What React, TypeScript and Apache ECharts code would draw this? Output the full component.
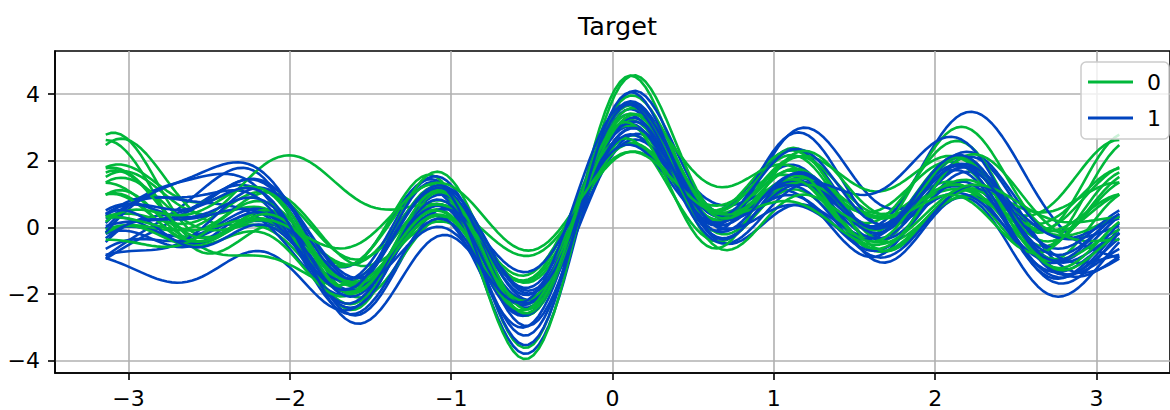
import React, { useEffect, useRef } from 'react';
import * as echarts from 'echarts';

// Andrews-curve chart: each row is one sample's feature vector
// [x1, x2, x3, ...] -> f(t) = x1/sqrt(2) + x2 sin t + x3 cos t + x4 sin 2t + x5 cos 2t + ...
const classLabels = ['0', '1'];
const classColors = ['#00b83a', '#0044bf'];
const xTicks = [-3, -2, -1, 0, 1, 2, 3];
const yTicks = [-4, -2, 0, 2, 4];
const titleText = 'Target';

// class "0" samples
const class0Rows: number[][] = [
  [0.78, 1.11, -0.10, 0.56, 0.85, 0.36, 0.04, 0.70, 0.46, 0.30, 0.67, 0.36, 1.53],
  [0.65, 0.61, -0.04, 0.28, 0.74, 0.55, -0.24, 0.29, 0.51, 0.20, 0.41, 0.24, 1.04],
  [0.57, 0.88, -0.17, 0.47, 0.39, -0.05, 0.28, 0.65, 0.24, 0.17, 0.32, 0.20, 0.91],
  [0.82, 0.88, 0.07, 0.57, 0.64, -0.03, -0.18, 0.79, 0.56, 0.22, 0.52, 0.26, 1.10],
  [0.61, 0.53, -0.03, 0.49, 0.55, 0.41, 0.19, 0.06, 0.03, 0.15, 0.30, 0.18, 0.79],
  [0.52, 1.04, 0.01, -0.06, 0.49, 0.30, 0.53, 0.74, 0.06, 0.24, 0.58, 0.29, 1.19],
  [0.77, 0.70, 0.01, 0.75, 0.77, -0.09, 0.04, 0.15, 0.05, 0.19, 0.46, 0.23, 0.95],
  [0.62, 0.82, 0.27, 0.61, 0.18, 0.61, 0.41, 0.98, 0.50, 0.27, 0.74, 0.32, 1.28],
  [0.46, 0.93, 0.11, 0.04, 0.53, 0.11, -0.26, 0.46, 0.40, 0.15, 0.37, 0.18, 0.74],
  [0.92, 1.04, 0.15, 0.38, 0.13, 0.18, 0.14, 0.79, 0.49, 0.20, 0.57, 0.24, 0.94],
  [0.45, 0.40, 0.29, 0.33, -0.03, -0.12, 0.50, 0.26, 0.16, 0.17, 0.51, 0.20, 0.78],
  [0.36, 0.91, 0.27, 0.56, 0.56, 0.39, 0.07, 0.33, 0.17, 0.22, 0.66, 0.26, 1.01],
  [1.04, 0.03, 0.11, 0.43, -0.24, 0.33, 0.53, 0.06, 0.13, 0.08, 0.19, 0.30, 0.53],
  [0.28, 0.81, 0.43, -0.15, 0.12, 0.08, 0.56, 0.95, 0.16, 0.24, 0.74, 0.29, 1.08],
  [0.52, 0.97, 0.42, 0.46, 0.35, 0.59, 0.57, 0.36, -0.31, 0.19, 0.62, 0.23, 0.83],
  [0.42, 0.81, 0.05, 0.51, 0.31, -0.11, 0.05, 0.28, 0.61, 0.22, 0.55, 0.26, 1.08],
  [0.55, 0.66, 0.32, 0.55, 0.37, 0.13, 0.63, 0.80, -0.07, 0.24, 0.69, 0.29, 1.12],
  [0.60, 0.21, 0.32, -0.07, 0.31, 0.33, 0.14, 0.33, -0.08, 0.12, 0.41, 0.14, 0.52],
];

// class "1" samples
const class1Rows: number[][] = [
  [0.43, 0.81, 0.43, 0.76, 0.24, -0.24, 0.55, 0.39, -0.52, 0.22, 0.81, 0.26, 0.90],
  [0.15, 0.44, 0.48, 1.19, 0.19, 0.30, 0.49, 0.86, 0.02, 0.27, 0.94, 0.32, 1.15],
  [0.28, 0.57, 0.29, 0.44, 0.22, 0.25, 0.60, 0.73, -0.57, 0.19, 0.69, 0.23, 0.79],
  [0.29, 1.13, 0.44, 0.78, -0.10, -0.08, 0.33, 0.38, 0.31, 0.24, 0.84, 0.29, 1.01],
  [0.18, 1.54, 0.41, -0.43, 0.13, 0.57, 0.62, 0.53, -0.31, 0.20, 0.69, 0.24, 0.85],
  [0.15, 0.51, 0.30, 0.16, -0.09, 0.36, 0.66, 0.89, 0.11, 0.22, 0.75, 0.26, 0.94],
  [0.24, 0.70, 0.20, 0.60, 0.36, -0.11, 0.13, 0.73, 0.01, 0.17, 0.59, 0.20, 0.72],
  [0.25, 1.24, 0.42, 0.60, 0.05, 0.15, 0.33, 0.46, 0.06, 0.27, 0.90, 0.32, 1.17],
  [0.37, 0.34, 0.27, 0.62, 0.53, -0.21, 0.42, 0.89, -0.30, 0.20, 0.69, 0.24, 0.85],
  [0.53, 0.76, 0.30, -0.02, 0.24, 0.34, 0.41, 0.62, 0.14, 0.24, 0.81, 0.29, 1.03],
  [0.15, 0.74, 0.24, 0.49, 0.06, 0.23, 0.78, 0.29, -0.18, 0.19, 0.62, 0.23, 0.83],
  [0.26, 0.85, 0.23, 0.71, 0.52, -0.24, 0.66, 0.84, 0.06, 0.22, 0.72, 0.26, 0.97],
  [0.42, 0.30, 0.13, 0.45, 0.41, 0.09, 0.43, 0.18, -0.29, 0.17, 0.56, 0.20, 0.74],
  [0.50, 0.88, 0.26, 0.06, -0.08, -0.26, 0.65, 0.87, 0.08, 0.20, 0.65, 0.24, 0.88],
  [0.65, 0.99, 0.24, 0.60, 0.32, 0.08, 0.36, 0.56, 0.05, 0.24, 0.78, 0.29, 1.06],
  [0.53, 0.17, 0.10, 0.59, 0.20, -0.20, 0.66, 0.93, -0.24, 0.19, 0.59, 0.23, 0.86],
  [0.30, 0.94, 0.29, 0.29, 0.17, 0.35, 0.43, 0.86, 0.35, 0.27, 0.84, 0.32, 1.22],
  [0.35, 1.01, 0.13, 0.61, 0.66, -0.24, 0.72, 0.44, 0.00, 0.22, 0.66, 0.26, 1.01],
];

const SAMPLES = 200;

function andrewsValue(row: number[], t: number): number {
  let r = row[0] / Math.SQRT2;
  for (let i = 1; i < row.length; i += 2) {
    const h = (i + 1) / 2;
    r += row[i] * Math.sin(h * t);
    if (i + 1 < row.length) r += row[i + 1] * Math.cos(h * t);
  }
  return r;
}

function curve(row: number[]): number[][] {
  const pts: number[][] = [];
  for (let i = 0; i < SAMPLES; i++) {
    const t = -Math.PI + (2 * Math.PI * i) / (SAMPLES - 1);
    pts.push([t, andrewsValue(row, t)]);
  }
  return pts;
}

const minusFmt = (v: number) => (v < 0 ? '\u2212' + Math.abs(v) : String(v));

export default function App() {
  const ref = useRef<HTMLDivElement>(null);
  useEffect(() => {
    if (!ref.current) return;
    const chart = echarts.init(ref.current, undefined, { renderer: 'svg' });
    const series: any[] = [];
    const n = Math.max(class0Rows.length, class1Rows.length);
    for (let i = 0; i < n; i++) {
      [class0Rows, class1Rows].forEach((rows, c) => {
        if (i < rows.length) {
          series.push({
            type: 'line',
            name: classLabels[c],
            data: curve(rows[i]),
            showSymbol: false,
            symbol: 'none',
            silent: true,
            lineStyle: { color: classColors[c], width: 2.6 },
            itemStyle: { color: classColors[c] },
          });
        }
      });
    }
    const font = 'DejaVu Sans';
    chart.setOption({
      animation: false,
      textStyle: { fontFamily: font },
      title: {
        text: titleText,
        left: 578,
        top: 13,
        padding: 0,
        textStyle: { fontFamily: font, fontSize: 25.5, fontWeight: 'normal', color: '#000' },
      },
      legend: {
        data: classLabels,
        orient: 'vertical',
        left: 1081,
        top: 62,
        padding: [9, 8, 10, 7],
        itemGap: 14,
        itemWidth: 45,
        itemHeight: 3,
        icon: 'rect',
        backgroundColor: 'rgba(255,255,255,0.8)',
        borderColor: '#cccccc',
        borderWidth: 1.5,
        borderRadius: 5,
        selectedMode: false,
        textStyle: { fontFamily: font, fontSize: 22, color: '#000', padding: [0, 0, 0, 9] },
      },
      grid: {
        left: 55,
        top: 51,
        width: 1125,
        height: 322,
        show: true,
        borderColor: '#000',
        borderWidth: 1.6,
        containLabel: false,
      },
      xAxis: {
        type: 'value',
        min: -3.456,
        max: 3.456,
        axisLine: { onZero: false, lineStyle: { color: '#000', width: 1.6 } },
        axisTick: { length: 7, lineStyle: { color: '#000', width: 1.6 }, customValues: xTicks },
        axisLabel: {
          customValues: xTicks,
          formatter: minusFmt,
          fontFamily: font,
          fontSize: 22,
          color: '#000',
          margin: 14,
        },
        splitLine: { show: true, lineStyle: { color: '#b0b0b0', width: 1.6 } },
      },
      yAxis: {
        type: 'value',
        min: -4.37,
        max: 5.29,
        axisLine: { onZero: false, lineStyle: { color: '#000', width: 1.6 } },
        axisTick: { length: 7, lineStyle: { color: '#000', width: 1.6 }, customValues: yTicks },
        axisLabel: {
          customValues: yTicks,
          formatter: minusFmt,
          fontFamily: font,
          fontSize: 22,
          color: '#000',
          margin: 15,
        },
        splitLine: { show: true, lineStyle: { color: '#b0b0b0', width: 1.6 } },
      },
      series,
    });
    return () => chart.dispose();
  }, []);
  return (
    <div
      ref={ref}
      style={{ position: 'absolute', left: 0, top: 0, width: 1170, height: 410, background: '#fff' }}
    />
  );
}
